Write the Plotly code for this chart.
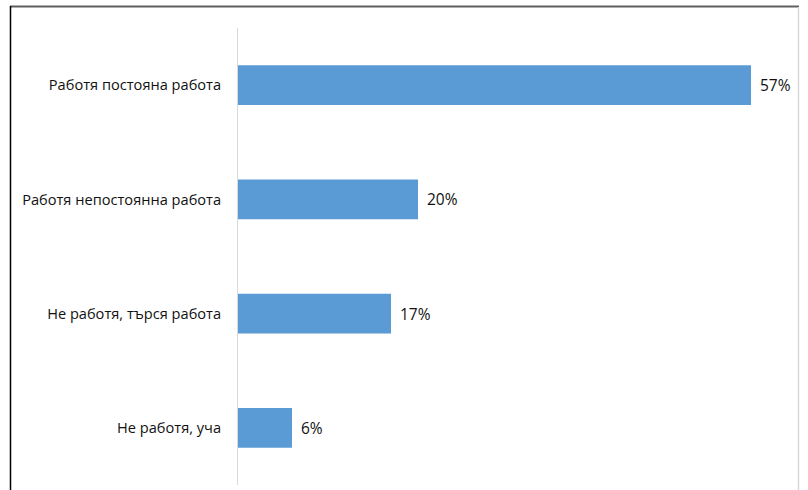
import plotly.graph_objects as go

# Employment status shares (%)
categories = [
    "Работя постояна работа",
    "Работя непостоянна работа",
    "Не работя, търся работа",
    "Не работя, уча",
]
values = [57, 20, 17, 6]
value_labels = ["57%", "20%", "17%", "6%"]

BAR_COLOR = "#5b9bd5"
FONT = "Open Sans"

W, H = 808, 490
ML, MR, MT, MB = 238, 12, 28, 5
plot_w = W - ML - MR
plot_h = H - MT - MB


def px_to_paper_x(px):
    return (px - ML) / plot_w


def px_to_paper_y(py):
    return (H - MB - py) / plot_h


fig = go.Figure(
    go.Bar(
        x=values,
        y=categories,
        orientation="h",
        marker=dict(color=BAR_COLOR, line=dict(width=0)),
        hoverinfo="skip",
    )
)

# value labels to the right of each bar
for cat, v, lab in zip(categories, values, value_labels):
    fig.add_annotation(
        x=v, y=cat, text=lab, showarrow=False,
        xanchor="left", yanchor="middle", xshift=7,
        font=dict(family=FONT, size=15.5, color="#111111"),
    )

# frame lines around the chart area
fig.add_shape(type="line", xref="paper", yref="paper",
              x0=px_to_paper_x(10), x1=px_to_paper_x(799),
              y0=px_to_paper_y(6.5), y1=px_to_paper_y(6.5),
              line=dict(color="#5f5f5f", width=2))
fig.add_shape(type="line", xref="paper", yref="paper",
              x0=px_to_paper_x(10.5), x1=px_to_paper_x(10.5),
              y0=px_to_paper_y(6), y1=px_to_paper_y(492),
              line=dict(color="#000000", width=1.5))
fig.add_shape(type="line", xref="paper", yref="paper",
              x0=px_to_paper_x(798.5), x1=px_to_paper_x(798.5),
              y0=px_to_paper_y(7), y1=px_to_paper_y(492),
              line=dict(color="#d9d9d9", width=1.5))

fig.update_layout(
    width=W, height=H,
    margin=dict(l=ML, r=MR, t=MT, b=MB),
    paper_bgcolor="#ffffff", plot_bgcolor="#ffffff",
    bargap=0.65,
    showlegend=False,
    font=dict(family=FONT, size=14.6, color="#111111"),
    xaxis=dict(range=[0, plot_w / 9.0], visible=False, fixedrange=True),
    yaxis=dict(
        autorange="reversed",
        showline=True, linecolor="#d9d9d9", linewidth=1,
        ticks="", ticklabelstandoff=13, showgrid=False,
        tickfont=dict(family=FONT, size=14.6, color="#111111"),
        fixedrange=True,
    ),
)

fig.write_html("out.html")
